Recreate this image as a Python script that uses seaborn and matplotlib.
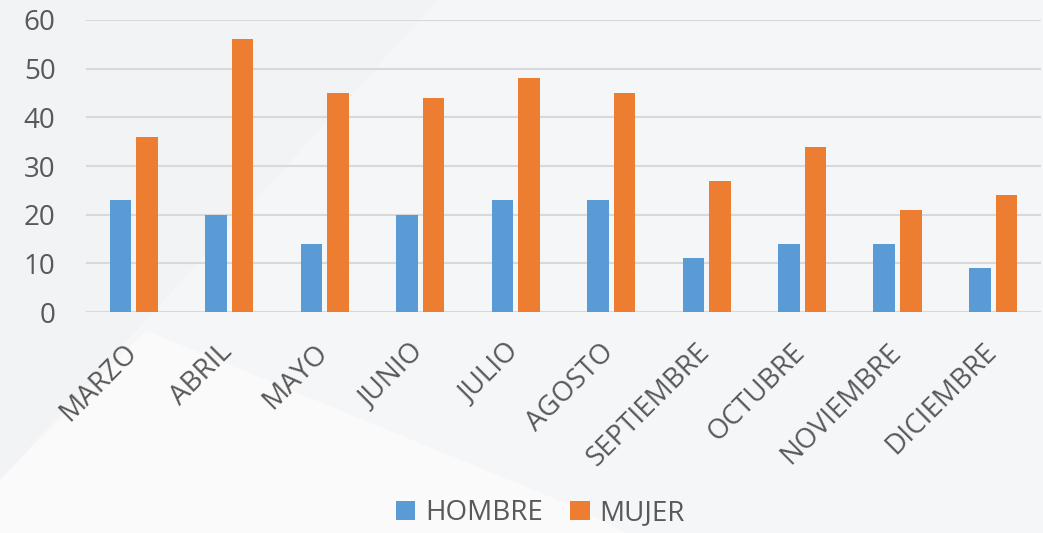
import matplotlib
matplotlib.use("Agg")
import matplotlib.pyplot as plt
import matplotlib.transforms as mtransforms
import seaborn as sns
import pandas as pd
from matplotlib.patches import Polygon

months = ["MARZO", "ABRIL", "MAYO", "JUNIO", "JULIO", "AGOSTO",
          "SEPTIEMBRE", "OCTUBRE", "NOVIEMBRE", "DICIEMBRE"]
hombre = [23, 20, 14, 20, 23, 23, 11, 14, 14, 9]
mujer = [36, 56, 45, 44, 48, 45, 27, 34, 21, 24]
series = ["HOMBRE", "MUJER"]
colors = ["#5B9BD5", "#ED7D31"]
yticks = [0, 10, 20, 30, 40, 50, 60]

df = pd.DataFrame({
    "mes": months * 2,
    "valor": hombre + mujer,
    "serie": [series[0]] * len(months) + [series[1]] * len(months),
})

sns.set_theme(style="white")
plt.rcParams["font.family"] = ["Open Sans", "DejaVu Sans"]
text_color = "#595959"

fig = plt.figure(figsize=(10.43, 5.33), dpi=100)
fig.patch.set_facecolor("#f2f3f5")
# subtle lighter background shapes
fig.patches.append(Polygon([[0, 0], [0.0, 0.1], [0.42, 1.0], [1.0, 1.0], [1.0, 0.0]],
                           closed=True, transform=fig.transFigure,
                           facecolor="#f5f6f8", edgecolor="none", zorder=-2))
fig.patches.append(Polygon([[0, 0], [0.0, 0.1], [0.14, 0.38], [0.55, 0.05], [0.6, 0.0]],
                           closed=True, transform=fig.transFigure,
                           facecolor="#fafafb", edgecolor="none", zorder=-1))

ax = fig.add_axes([0.0825, 0.4146, 0.9155, 0.5479])
ax.set_facecolor("none")

sns.barplot(data=df, x="mes", y="valor", hue="serie", order=months,
            hue_order=series, palette=colors, width=0.56, gap=0.19,
            saturation=1, ax=ax, legend=True, zorder=3, linewidth=0,
            edgecolor="none")

ax.set_ylim(0, 60)
ax.set_yticks(yticks)
ax.set_xlim(-0.5, len(months) - 0.5)
ax.grid(axis="y", color="#d9d9d9", linewidth=1.5, zorder=0)
ax.set_axisbelow(True)
for s in ax.spines.values():
    s.set_visible(False)
ax.set_xlabel("")
ax.set_ylabel("")
ax.tick_params(axis="both", length=0, labelsize=20, colors=text_color)
ax.tick_params(axis="y", pad=22)
ax.tick_params(axis="x", pad=19)
offset = mtransforms.ScaledTranslation(-11 / 100, 0, fig.dpi_scale_trans)
for lbl in ax.get_xticklabels():
    lbl.set_rotation(45)
    lbl.set_horizontalalignment("right")
    lbl.set_verticalalignment("top")
    lbl.set_rotation_mode("anchor")
    lbl.set_transform(lbl.get_transform() + offset)

handles, labels = ax.get_legend_handles_labels()
ax.get_legend().remove()
leg = fig.legend(handles, labels, loc="lower center", bbox_to_anchor=(0.518, -0.036),
                 ncol=2, frameon=False, fontsize=20, handlelength=0.7, handleheight=0.7,
                 handletextpad=0.35, columnspacing=1.0)
for t in leg.get_texts():
    t.set_color(text_color)

fig.savefig("out.png", dpi=100, facecolor=fig.get_facecolor())
